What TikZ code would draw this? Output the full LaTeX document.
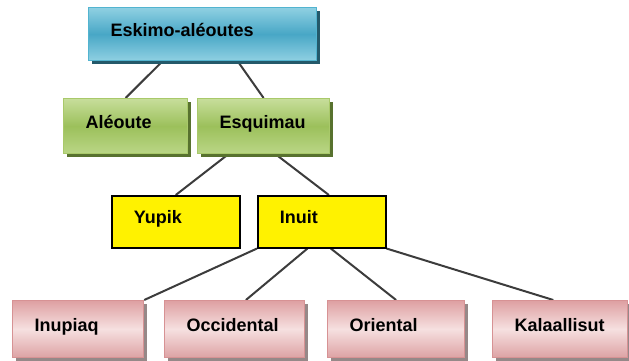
\documentclass[tikz,border=0pt]{standalone}
\usepackage{fontspec}
\setmainfont{Liberation Sans}
\usetikzlibrary{shadows,backgrounds,calc}

\definecolor{bleuHaut}{RGB}{143,208,226}
\definecolor{bleuMilieu}{RGB}{72,167,198}
\definecolor{bleuBord}{RGB}{82,180,208}
\definecolor{bleuOmbre}{RGB}{36,89,106}
\definecolor{vertHaut}{RGB}{199,222,155}
\definecolor{vertMilieu}{RGB}{156,192,91}
\definecolor{vertBas}{RGB}{186,214,134}
\definecolor{vertBord}{RGB}{169,201,106}
\definecolor{vertOmbre}{RGB}{88,114,47}
\definecolor{roseHaut}{RGB}{222,160,162}
\definecolor{roseMilieu}{RGB}{246,224,224}
\definecolor{roseBas}{RGB}{221,162,164}
\definecolor{roseBord}{RGB}{215,146,148}
\definecolor{roseOmbre}{RGB}{150,136,136}
\definecolor{trait}{RGB}{60,60,60}

\tikzset{
  boite/.style={rectangle, anchor=north west, inner xsep=22pt, inner ysep=0pt,
    text height=11pt, text depth=7pt, align=left,
    font=\fontsize{18}{21}\selectfont\bfseries},
  langueBleue/.style={boite, draw=bleuBord, line width=1.2pt,
    top color=bleuHaut, bottom color=bleuHaut, middle color=bleuMilieu,
    drop shadow={shadow xshift=3pt, shadow yshift=-3pt, fill=bleuOmbre, opacity=1}},
  langueVerte/.style={boite, draw=vertBord, line width=1.2pt,
    top color=vertHaut, bottom color=vertBas, middle color=vertMilieu,
    drop shadow={shadow xshift=3pt, shadow yshift=-3pt, fill=vertOmbre, opacity=1}},
  langueJaune/.style={boite, draw=black, line width=1.5pt, fill=yellow,
    drop shadow={shadow xshift=1.5pt, shadow yshift=-1.5pt, fill=gray, opacity=1}},
  langueRose/.style={boite, draw=roseBord, line width=1.2pt,
    top color=roseHaut, bottom color=roseBas, middle color=roseMilieu,
    drop shadow={shadow xshift=3pt, shadow yshift=-3pt, fill=roseOmbre, opacity=1}},
  lien/.style={draw=trait, line width=2pt}
}

\begin{document}
\begin{tikzpicture}[x=1pt,y=1pt,yscale=-1,xscale=1]
\useasboundingbox (0,0) rectangle (629,360);

% Famille
\node[langueBleue, text width=184pt, minimum height=53pt] (eskimo) at (88,7) {Eskimo-aléoutes};
% Branches
\node[langueVerte, text width=80pt, minimum height=55pt] (aleoute) at (63,98) {Aléoute};
\node[langueVerte, text width=88pt, minimum height=55pt] (esquimau) at (197,98) {Esquimau};
% Groupes
\node[langueJaune, text width=84pt, minimum height=52pt] (yupik) at (111,195) {Yupik};
\node[langueJaune, text width=84pt, minimum height=52pt] (inuit) at (257,195) {Inuit};
% Langues inuit
\node[langueRose, text width=87pt, minimum height=57pt] (inupiaq) at (12,300) {Inupiaq};
\node[langueRose, text width=96pt, minimum height=57pt] (occidental) at (164,300) {Occidental};
\node[langueRose, text width=93pt, minimum height=57pt] (oriental) at (327,300) {Oriental};
\node[langueRose, text width=91pt, minimum height=57pt] (kalaallisut) at (492,300) {Kalaallisut};

\begin{scope}[on background layer]
%Straight Lines
\draw[lien] ($(eskimo.south west)!0.325!(eskimo.south east)$) -- (aleoute.north);
\draw[lien] ($(eskimo.south west)!0.653!(eskimo.south east)$) -- (esquimau.north);
%Straight Lines
\draw[lien] ($(esquimau.south west)!0.235!(esquimau.south east)$) -- (yupik.north);
\draw[lien] ($(esquimau.south west)!0.59!(esquimau.south east)$) -- ($(inuit.north west)!0.555!(inuit.north east)$);
%Straight Lines
\draw[lien] (inuit.south west) -- (inupiaq.north east);
\draw[lien] ($(inuit.south west)!0.39!(inuit.south east)$) -- ($(occidental.north west)!0.58!(occidental.north east)$);
\draw[lien] ($(inuit.south west)!0.57!(inuit.south east)$) -- (oriental.north);
\draw[lien] (inuit.south east) -- ($(kalaallisut.north west)!0.45!(kalaallisut.north east)$);
\end{scope}

\end{tikzpicture}
\end{document}
